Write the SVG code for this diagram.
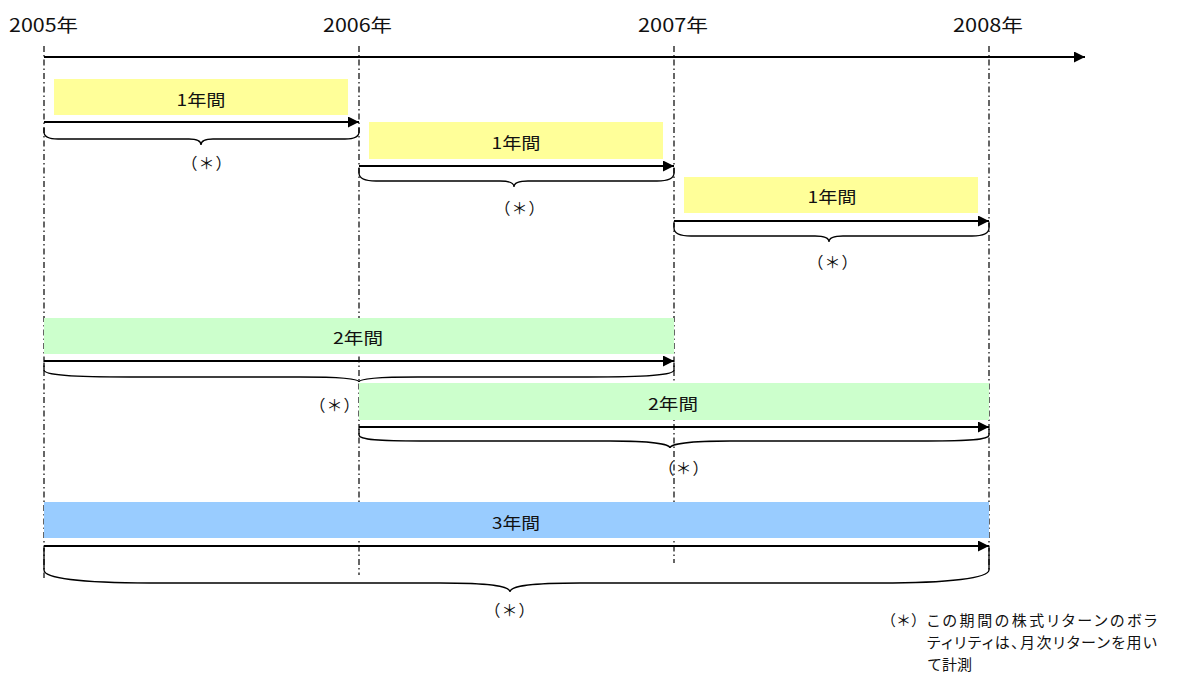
<svg xmlns="http://www.w3.org/2000/svg" width="1187" height="673" viewBox="0 0 1187 673">
<style>
  text { font-family: "Noto Sans CJK JP", "Noto Sans", sans-serif; fill: #111; }
  .yr { font-size: 18px; }
  .lbl { font-size: 16px; text-anchor: middle; }
  .ast { font-size: 16px; text-anchor: middle; letter-spacing: 1px; }
  .note { font-size: 15px; }
  .prop { font-feature-settings: "palt"; }
  .vline { stroke: #000; stroke-width: 1.2; stroke-dasharray: 6 3 1.5 3; fill: none; }
  .arr { stroke: #000; stroke-width: 2; fill: none; marker-end: url(#ah); }
  .brace { stroke: #000; stroke-width: 1.3; fill: none; }
  .y { fill: #FFFF99; }
  .g { fill: #CCFFCC; }
  .b { fill: #99CCFF; }
</style>
<defs>
  <marker id="ah" markerUnits="userSpaceOnUse" markerWidth="12" markerHeight="12" refX="11" refY="5.5" orient="auto">
    <path d="M0,0 L11,5.5 L0,11 Z" fill="#000"/>
  </marker>
</defs>
<rect width="1187" height="673" fill="#fff"/>

<g id="axis">
  <text class="yr" x="9" y="32" textLength="69" lengthAdjust="spacingAndGlyphs">2005年</text>
  <text class="yr" x="323" y="32" textLength="69" lengthAdjust="spacingAndGlyphs">2006年</text>
  <text class="yr" x="638" y="32" textLength="70" lengthAdjust="spacingAndGlyphs">2007年</text>
  <text class="yr" x="953" y="32" textLength="70" lengthAdjust="spacingAndGlyphs">2008年</text>
  <line class="vline" x1="44" y1="46" x2="44" y2="578"/>
  <line class="vline" x1="359" y1="46" x2="359" y2="575"/>
  <line class="vline" x1="674" y1="46" x2="674" y2="563"/>
  <line class="vline" x1="989" y1="46" x2="989" y2="570"/>
</g>

<g id="bar-1y-2005">
  <rect class="y" x="54" y="79" width="294" height="36"/>
  <text class="lbl" x="201" y="106" textLength="49" lengthAdjust="spacingAndGlyphs">1年間</text>
</g>
<g id="bar-1y-2006">
  <rect class="y" x="369" y="122" width="294" height="37"/>
  <text class="lbl" x="516" y="149" textLength="49" lengthAdjust="spacingAndGlyphs">1年間</text>
</g>
<g id="bar-1y-2007">
  <rect class="y" x="684" y="177" width="294" height="36"/>
  <text class="lbl" x="832" y="203" textLength="49" lengthAdjust="spacingAndGlyphs">1年間</text>
</g>
<g id="bar-2y-2005">
  <rect class="g" x="44" y="318" width="630" height="36"/>
  <text class="lbl" x="358" y="344" textLength="50" lengthAdjust="spacingAndGlyphs">2年間</text>
</g>
<g id="bar-2y-2006">
  <rect class="g" x="359" y="383" width="630" height="37"/>
  <text class="lbl" x="673" y="410" textLength="50" lengthAdjust="spacingAndGlyphs">2年間</text>
</g>
<g id="bar-3y-2005">
  <rect class="b" x="44" y="502" width="945" height="36"/>
  <text class="lbl" x="516" y="529" textLength="48" lengthAdjust="spacingAndGlyphs">3年間</text>
</g>

<g id="connectors">
  <line class="arr" x1="44" y1="57" x2="1085" y2="57"/>
  <line class="arr" x1="44" y1="122" x2="359" y2="122"/>
  <line class="arr" x1="359" y1="166" x2="674" y2="166"/>
  <line class="arr" x1="674" y1="221" x2="989" y2="221"/>
  <line class="arr" x1="44" y1="361" x2="674" y2="361"/>
  <line class="arr" x1="359" y1="427" x2="989" y2="427"/>
  <line class="arr" x1="44" y1="546" x2="989" y2="546"/>

  <path class="brace" d="M44,128 L44,132 C44,137 48,139 58,139 L189,139 C196,139 201,141 201,145 C201,141 206,139 213,139 L345,139 C355,139 359,137 359,132 L359,128"/>
  <path class="brace" d="M359,168 L359,173 C359,178 364,181 376,181 L500,181 C508,181 514,183 514,187 C514,183 520,181 528,181 L657,181 C669,181 674,178 674,173 L674,168"/>
  <path class="brace" d="M674,223 L674,228 C674,233 679,236 691,236 L815,236 C823,236 829,238 829,242 C829,238 835,236 843,236 L972,236 C984,236 989,233 989,228 L989,223"/>
  <path class="brace" d="M44,363 L44,370 C44,375 70,377 130,377 L300,377 C340,377 359,379 359,382 C359,379 378,377 418,377 L588,377 C648,377 674,375 674,370 L674,363"/>
  <path class="brace" d="M359,429 L359,435 C359,440 380,441 420,441 L610,441 C650,441 670,444 670,448 C670,444 690,441 730,441 L928,441 C968,441 989,440 989,435 L989,429"/>
  <path class="brace" d="M44,548 L44,570 C44,578 80,583 150,583 L440,583 C490,583 510,586 510,592 C510,586 530,583 580,583 L880,583 C950,583 989,578 989,570 L989,548"/>

  <text class="ast" x="207" y="169">（＊）</text>
  <text class="ast" x="520" y="214">（＊）</text>
  <text class="ast" x="833" y="268">（＊）</text>
  <text class="ast" x="335" y="411">（＊）</text>
  <text class="ast" x="684" y="474">（＊）</text>
  <text class="ast" x="510" y="616">（＊）</text>
</g>

<g id="note">
  <text class="note" x="881" y="626">（＊）</text>
  <text class="note prop" x="927" y="626" textLength="230" lengthAdjust="spacing">この期間の株式リターンのボラ</text>
  <text class="note prop" x="927" y="648" textLength="230" lengthAdjust="spacing">ティリティは、月次リターンを用い</text>
  <text class="note" x="927" y="670">て計測</text>
</g>
</svg>
